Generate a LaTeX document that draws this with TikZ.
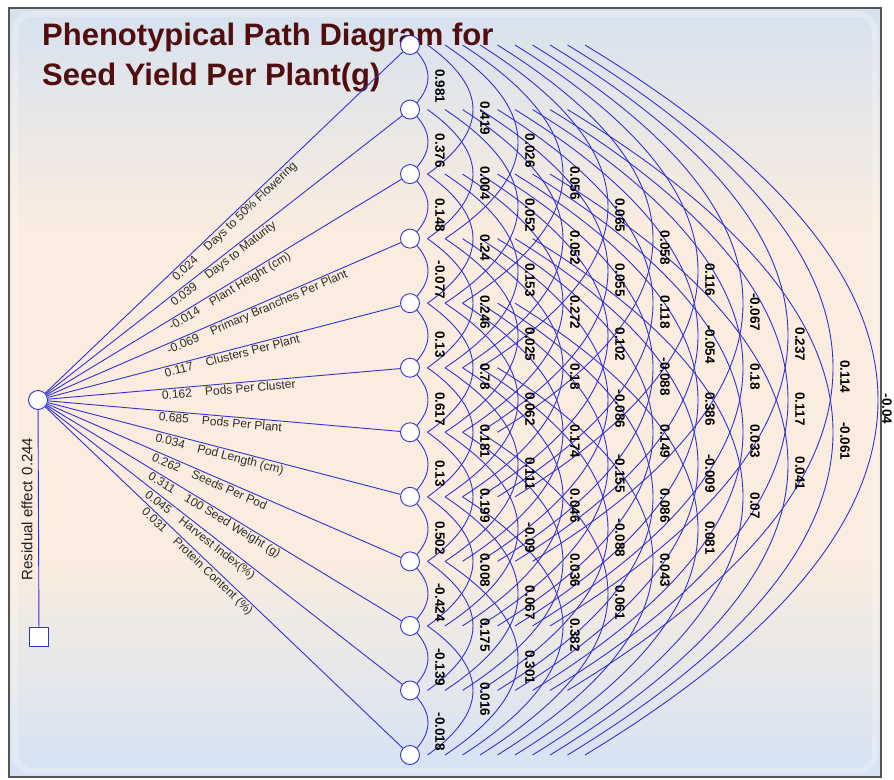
\documentclass[tikz,border=0pt]{standalone}
\usepackage{fontspec}
\setmainfont{Liberation Sans}
\usetikzlibrary{calc}
\definecolor{linec}{RGB}{50,50,210}
\definecolor{titlec}{RGB}{82,14,14}
\definecolor{labc}{RGB}{45,45,45}
\definecolor{bgtop}{RGB}{214,226,240}
\definecolor{bgmid}{RGB}{250,236,222}
\definecolor{bgbot}{RGB}{212,227,245}
\definecolor{framec}{RGB}{85,85,85}
\pgfdeclarelayer{bg}
\pgfdeclarelayer{edges}
\pgfsetlayers{bg,edges,main}
\begin{document}
\begin{tikzpicture}[x=1pt,y=-1pt,
  conn/.style={draw=linec, line width=0.9pt},
  var/.style={circle, draw=linec, fill=white, line width=0.9pt, minimum size=19pt, inner sep=0pt},
  resbox/.style={rectangle, draw=linec, fill=white, line width=0.9pt, minimum size=19pt, inner sep=0pt},
  corr/.style={font=\fontsize{13.5}{13.5}\selectfont\bfseries, text=black, rotate=-90, inner sep=0pt},
  flab/.style={font=\fontsize{12}{12}\selectfont, text=labc, sloped, anchor=north west, inner sep=1.5pt},
  ttl/.style={font=\fontsize{31}{34}\selectfont\bfseries, text=titlec, anchor=base west, inner sep=0pt}]
\useasboundingbox (0,0) rectangle (894,779);
\begin{pgfonlayer}{bg}
\fill[white] (0,0) rectangle (894,779);
\shade[top color=bgtop, bottom color=bgmid] (9,8) rectangle (881,230);
\fill[bgmid] (9,229.5) rectangle (881,560.5);
\shade[top color=bgmid, bottom color=bgbot] (9,560) rectangle (881,777);
\draw[white, opacity=0.25, line width=6pt, rounded corners=18pt] (15,14) rectangle (875,771);
\draw[framec, line width=2.5pt] (9,8) rectangle (881,777);
\node[ttl] (title1) at (42,45) {Phenotypical Path Diagram for};
\node[ttl] (title2) at (42,85) {Seed Yield Per Plant(g)};
\end{pgfonlayer}
% nodes
\node[var] (c) at (38,400) {};
\node[resbox] (res) at (39,637) {};
\foreach \i in {1,...,12} {\node[var] (v\i) at (410,{45+64.545*(\i-1)}) {};}
% residual
\begin{pgfonlayer}{edges}
\draw[conn] (c) -- (res);
\end{pgfonlayer}
\node[rotate=90, font=\fontsize{15}{15}\selectfont, text=black!88, inner sep=0pt] (reslab) at (27,509) {Residual effect\hspace{6pt}0.244};
% fan lines with direct effects
\foreach \i/\val/\name in {1/0.024/Days to 50\% Flowering, 2/0.039/Days to Maturity, 3/-0.014/Plant Height (cm), 4/-0.069/Primary Branches Per Plant, 5/0.117/Clusters Per Plant, 6/0.162/Pods Per Cluster, 7/0.685/Pods Per Plant, 8/0.034/Pod Length (cm), 9/0.262/Seeds Per Pod, 10/0.311/100 Seed Weight (g), 11/0.045/Harvest Index(\%), 12/0.031/Protein Content (\%)} {
  \pgfmathsetmacro\pp{0.345-0.0055*(\i-1)}
  \begin{pgfonlayer}{edges}
  \draw[conn] (c) -- (v\i);
  \end{pgfonlayer}
  \path (c) -- (v\i) node[flab, pos=\pp] (f\i) {\val\hspace{1.1em}\name};
}
% correlation arcs
\foreach \k/\vals in {1/{0.981,0.376,0.148,-0.077,0.13,0.617,0.13,0.502,-0.424,-0.139,-0.018},
  2/{0.419,0.004,0.24,0.246,0.78,0.181,0.199,0.008,0.175,0.016},
  3/{0.026,0.052,0.153,0.025,0.062,0.111,-0.09,0.067,0.301},
  4/{0.056,0.052,0.272,0.18,0.174,0.046,0.036,0.382},
  5/{0.065,0.055,0.102,-0.086,-0.155,-0.088,0.061},
  6/{0.058,0.118,-0.088,0.149,0.086,0.043},
  7/{0.116,-0.054,0.386,-0.009,0.081},
  8/{-0.067,0.18,0.033,0.07},
  9/{0.237,0.117,0.041},
  10/{0.114,-0.061},
  11/{-0.04}} {
  \pgfmathsetmacro\sOff{17.5*(\k-1)}
  \pgfmathsetmacro\aOff{45*\k-27}
  \pgfmathsetmacro\cOff{\sOff+4/3*(\aOff-\sOff)}
  \pgfmathsetmacro\dOff{64.545*\k/3}
  \pgfmathsetmacro\lOff{min(45*\k-15,477)}
  \foreach \v [count=\i] in \vals {
    \pgfmathtruncatemacro\j{\i+\k}
    \begin{pgfonlayer}{edges}
    \draw[conn] ($(v\i)+(\sOff,0)$) .. controls ($(v\i)+(\cOff,\dOff)$) and ($(v\j)+(\cOff,-\dOff)$) .. ($(v\j)+(\sOff,0)$);
    \end{pgfonlayer}
    \node[corr] (r\i x\j) at ($(v\i)!0.5!(v\j)+(\lOff,9)$) {\v};
  }
}
\end{tikzpicture}
\end{document}
